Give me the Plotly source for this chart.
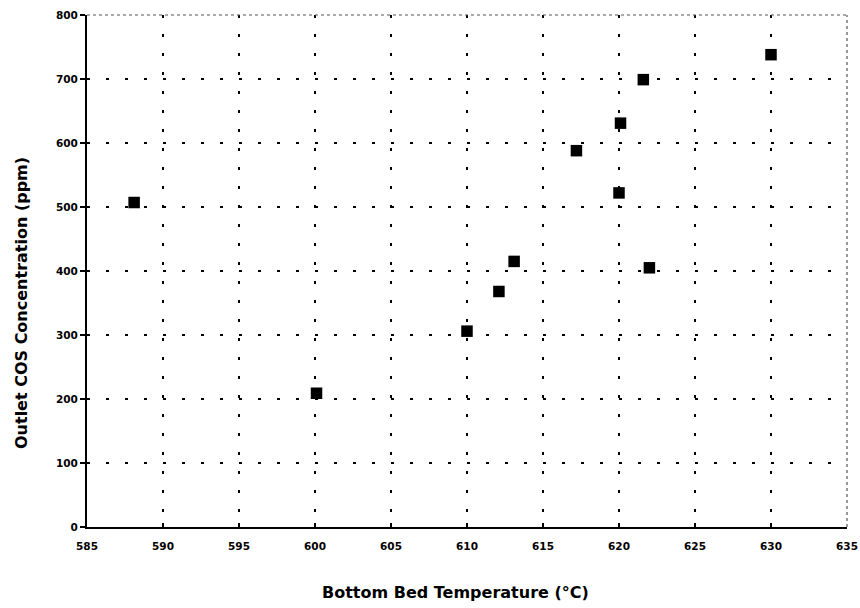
import plotly.graph_objects as go

temps = [588.1, 600.1, 610.0, 612.1, 613.1, 617.2, 620.0, 620.1, 621.6, 622.0, 630.0]
cos_ppm = [507, 209, 306, 368, 415, 588, 522, 631, 699, 405, 738]

x_ticks = [585, 590, 595, 600, 605, 610, 615, 620, 625, 630, 635]
y_ticks = [0, 100, 200, 300, 400, 500, 600, 700, 800]

font_family = "DejaVu Sans, Liberation Sans, Arial, sans-serif"

fig = go.Figure()
fig.add_trace(go.Scatter(
    x=temps, y=cos_ppm, mode="markers",
    marker=dict(symbol="square", size=11.5, color="black", line=dict(width=0)),
    showlegend=False,
))

fig.update_layout(
    width=860, height=608,
    margin=dict(l=87, r=13, t=15, b=81, autoexpand=False),
    paper_bgcolor="white", plot_bgcolor="white",
    font=dict(family=font_family, color="black"),
    xaxis=dict(
        range=[585, 635], tickvals=x_ticks, ticktext=[str(v) for v in x_ticks],
        showgrid=True, gridcolor="black", gridwidth=1.5, griddash="3px,16px",
        showline=True, linecolor="black", linewidth=2,
        ticks="inside", ticklen=4, tickcolor="black", tickwidth=1.5,
        ticklabelstandoff=8, automargin=False,
        tickfont=dict(size=10.5, family=font_family, weight="bold"),
        zeroline=False, fixedrange=True,
    ),
    yaxis=dict(
        range=[0, 800], tickvals=y_ticks, ticktext=[str(v) for v in y_ticks],
        showgrid=True, gridcolor="black", gridwidth=1.5, griddash="3px,16px",
        showline=True, linecolor="black", linewidth=2,
        ticks="outside", ticklen=5, tickcolor="black", tickwidth=1.5,
        automargin=False,
        tickfont=dict(size=10.5, family=font_family, weight="bold"),
        zeroline=False, fixedrange=True,
    ),
    shapes=[
        dict(type="line", xref="paper", yref="paper", x0=0, x1=1, y0=1, y1=1,
             line=dict(color="#555", width=1.2, dash="dot")),
        dict(type="line", xref="paper", yref="paper", x0=1, x1=1, y0=0, y1=1,
             line=dict(color="#555", width=1.2, dash="dot")),
    ],
    annotations=[
        dict(text="<b>Bottom Bed Temperature (°C)</b>", xref="paper", yref="paper",
             x=(455 - 87) / 760, y=-(592 - 527) / 512, showarrow=False,
             font=dict(size=16, family=font_family), xanchor="center", yanchor="middle"),
        dict(text="<b>Outlet COS Concentration (ppm)</b>", xref="paper", yref="paper",
             x=-(87 - 21) / 760, y=(527 - 303) / 512, showarrow=False, textangle=-90,
             font=dict(size=16, family=font_family), xanchor="center", yanchor="middle"),
    ],
)

fig.write_html("out.html")
